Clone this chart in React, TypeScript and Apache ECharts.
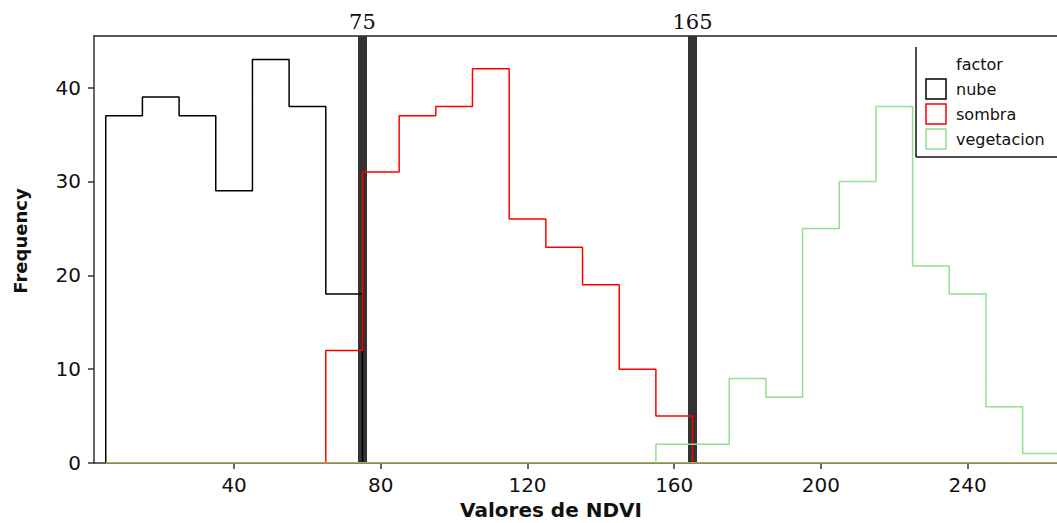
import React, { useEffect, useRef } from "react";
import * as echarts from "echarts";

// Histogram bin edges (shared breaks)
const binEdges = [5, 15, 25, 35, 45, 55, 65, 75, 85, 95, 105, 115, 125, 135, 145, 155, 165, 175, 185, 195, 205, 215, 225, 235, 245, 255, 265];

// Counts per bin for each factor level
const nubeCounts = [37, 39, 37, 29, 43, 38, 18, 0, 0, 0, 0, 0, 0, 0, 0, 0, 0, 0, 0, 0, 0, 0, 0, 0, 0, 0];
const sombraCounts = [0, 0, 0, 0, 0, 0, 12, 31, 37, 38, 42, 26, 23, 19, 10, 5, 0, 0, 0, 0, 0, 0, 0, 0, 0, 0];
const vegetacionCounts = [0, 0, 0, 0, 0, 0, 0, 0, 0, 0, 0, 0, 0, 0, 0, 2, 2, 9, 7, 25, 30, 38, 21, 18, 6, 1];

const seriesNames = ["nube", "sombra", "vegetacion"];
const seriesColors = ["#000000", "#ff0000", "#90e090"];

// Threshold lines
const cutValues = [75, 165];

// Tick labels
const xTicks = [40, 80, 120, 160, 200, 240];
const yTicks = [0, 10, 20, 30, 40];

// Outline of the histogram bars as a closed polygon along the baseline
function steps(counts: number[]) {
  const pts: number[][] = [];
  let prev = 0;
  counts.forEach((c, i) => {
    pts.push([binEdges[i], prev], [binEdges[i], c]);
    prev = c;
  });
  const last = binEdges[counts.length];
  pts.push([last, prev], [last, 0], [binEdges[0], 0]);
  return pts;
}

export default function App() {
  const ref = useRef<HTMLDivElement>(null);
  useEffect(() => {
    if (!ref.current) return;
    const chart = echarts.init(ref.current, null, { renderer: "svg" });
    const allCounts = [nubeCounts, sombraCounts, vegetacionCounts];
    const legendTop = [79, 104, 129];
    const option: any = {
      animation: false,
      backgroundColor: "#ffffff",
      grid: { left: 94, top: 36, width: 1002, height: 427, outerBoundsMode: "none", containLabel: false },
      xAxis: [
        {
          type: "value",
          min: 1.8,
          max: 275,
          splitLine: { show: false },
          axisLine: { show: true, onZero: false, lineStyle: { color: "#333", width: 1.5 } },
          axisTick: { show: true, customValues: xTicks, length: 6, lineStyle: { color: "#333", width: 1.5 } },
          axisLabel: {
            customValues: xTicks,
            margin: 12,
            color: "#111",
            fontSize: 20,
            fontFamily: "DejaVu Sans",
          },
        },
        {
          type: "value",
          position: "top",
          min: 1.8,
          max: 275,
          splitLine: { show: false },
          axisLine: { show: true, onZero: false, lineStyle: { color: "#222", width: 1.5 } },
          axisTick: { show: false },
          axisLabel: { show: false },
        },
      ],
      yAxis: {
        type: "value",
        min: 0,
        max: 45.5,
        splitLine: { show: false },
        axisLine: { show: true, onZero: false, lineStyle: { color: "#333", width: 1.5 } },
        axisTick: { show: true, customValues: yTicks, length: 6, lineStyle: { color: "#333", width: 1.5 } },
        axisLabel: {
          customValues: yTicks,
          margin: 13,
          color: "#111",
          fontSize: 20,
          fontFamily: "DejaVu Sans",
        },
      },
      series: [
        {
          name: "cortes",
          type: "line",
          data: [],
          z: 1,
          markLine: {
            silent: true,
            z: 1,
            symbol: ["none", "none"],
            lineStyle: { color: "#333333", width: 9, type: "solid" },
            label: {
              show: true,
              position: "end",
              distance: 4,
              formatter: (p: any) => String(p.value),
              color: "#111",
              fontSize: 21,
              fontFamily: "DejaVu Serif",
            },
            data: cutValues.map((v) => ({ xAxis: v })),
          },
        },
        ...seriesNames.map((name, i) => ({
          name,
          type: "line",
          z: 3 + i,
          showSymbol: false,
          symbol: "none",
          clip: true,
          lineStyle: { color: seriesColors[i], width: 1.5 },
          itemStyle: { color: seriesColors[i] },
          data: steps(allCounts[i]),
        })),
      ],
      graphic: [
        {
          type: "text",
          x: 20,
          y: 241,
          rotation: Math.PI / 2,
          style: {
            text: "Frequency",
            fontSize: 18,
            fontWeight: "bold",
            fontFamily: "DejaVu Sans",
            fill: "#111",
            align: "center",
            verticalAlign: "middle",
          },
        },
        {
          type: "text",
          x: 551,
          y: 510,
          style: {
            text: "Valores de NDVI",
            fontSize: 20,
            fontWeight: "bold",
            fontFamily: "DejaVu Sans",
            fill: "#111",
            align: "center",
            verticalAlign: "middle",
          },
        },
        {
          type: "line",
          shape: { x1: 916, y1: 47, x2: 916, y2: 157 },
          style: { stroke: "#111", lineWidth: 1.5 },
        },
        {
          type: "line",
          shape: { x1: 916, y1: 157, x2: 1060, y2: 157 },
          style: { stroke: "#111", lineWidth: 1.5 },
        },
        {
          type: "text",
          x: 956,
          y: 64,
          style: {
            text: "factor",
            fontSize: 16,
            fontFamily: "DejaVu Sans",
            fill: "#111",
            verticalAlign: "middle",
          },
        },
        ...seriesNames.map((name, i) => ({
          type: "rect",
          shape: { x: 926, y: legendTop[i], width: 20, height: 20 },
          style: { fill: "none", stroke: seriesColors[i], lineWidth: 1.5 },
        })),
        ...seriesNames.map((name, i) => ({
          type: "text",
          x: 956,
          y: legendTop[i] + 10,
          style: {
            text: name,
            fontSize: 16,
            fontFamily: "DejaVu Sans",
            fill: "#111",
            verticalAlign: "middle",
          },
        })),
      ],
    };
    chart.setOption(option);
    return () => chart.dispose();
  }, []);
  return (
    <div
      ref={ref}
      style={{ position: "fixed", left: 0, top: 0, width: 1057, height: 523, background: "#fff" }}
    />
  );
}
